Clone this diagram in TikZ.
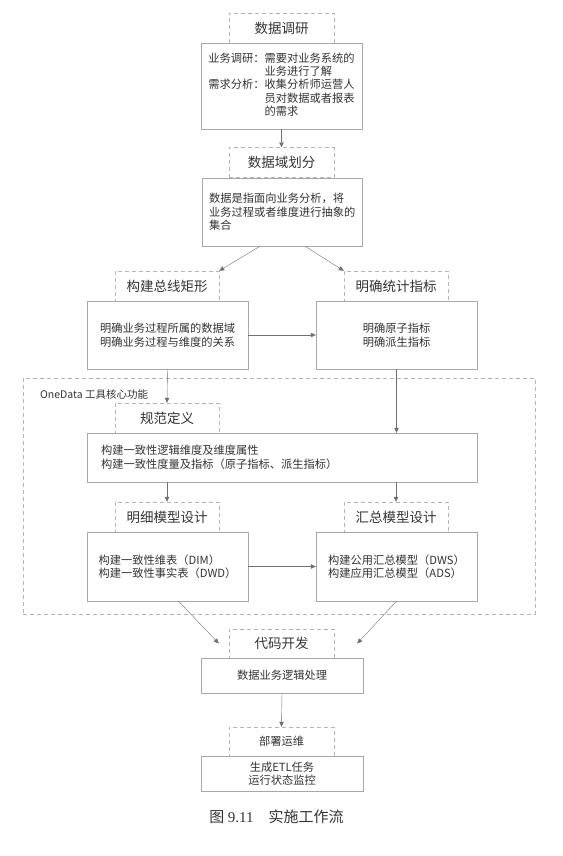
\documentclass[tikz,border=0pt]{standalone}
\usepackage{fontspec}
\setmainfont{Noto Sans CJK SC}
\newfontfamily\capserif{Liberation Serif}
\usetikzlibrary{arrows.meta}
\definecolor{boxgray}{HTML}{A8A8A8}
\definecolor{dashgray}{HTML}{B5B5B5}
\definecolor{arrowgray}{HTML}{707070}
\definecolor{textgray}{HTML}{333333}
\begin{document}
\begin{tikzpicture}[x=1pt,y=-1pt,
        titlebox/.style={draw=dashgray, dash pattern=on 4pt off 3pt, minimum width=105pt, minimum height=30pt, inner sep=0pt, text=textgray, font=\fontsize{13.5}{16}\selectfont},
        stepbox/.style={draw=boxgray, fill=white, inner sep=0pt, text=textgray, font=\fontsize{11.25}{13.5}\selectfont},
        flow/.style={draw=arrowgray, -{Triangle[length=5pt,width=4.5pt]}}]
        \useasboundingbox (0,0) rectangle (562,856);

        \node[titlebox] (research) at (281.5,28) {数据调研};
        \node[stepbox, minimum width=161pt, minimum height=86pt] (researchbox) at (281.5,86) {\fontsize{11.25}{12.75}\selectfont\begin{tabular}{@{}l@{}l@{}}
                业务调研：& 需要对业务系统的\\
                & 业务进行了解\\
                需求分析：& 收集分析师运营人\\
                & 员对数据或者报表\\
                & 的需求
            \end{tabular}};
        \node[titlebox] (domain) at (281.5,162.5) {数据域划分};
        \node[stepbox, minimum width=160pt, minimum height=68pt, text width=146pt, inner xsep=7pt, align=left] (domainbox) at (282,212) {数据是指面向业务分析，将\\业务过程或者维度进行抽象的\\集合};

        \node[titlebox, minimum width=104pt] (busmatrix) at (167,286) {构建总线矩形};
        \node[stepbox, minimum width=161pt, minimum height=68pt, align=center] (busbox) at (167.5,335) {明确业务过程所属的数据域\\明确业务过程与维度的关系};
        \node[titlebox, minimum width=104pt] (metric) at (396,286) {明确统计指标};
        \node[stepbox, minimum width=161pt, minimum height=68pt, align=center] (metricbox) at (396.5,335) {明确原子指标\\明确派生指标};

        \node[draw=dashgray, dash pattern=on 4pt off 3pt, minimum width=512pt, minimum height=236pt] (onedata) at (279,496) {};
        \node[anchor=west, inner sep=0pt, text=textgray, font=\fontsize{10.5}{12}\selectfont] (onedatalabel) at (40,394) {OneData 工具核心功能};

        \node[titlebox, minimum width=104pt] (spec) at (167,418) {规范定义};
        \node[stepbox, minimum width=390pt, minimum height=49pt, text width=362pt, inner xsep=14pt, align=left] (specbox) at (282,457.5) {构建一致性逻辑维度及维度属性\\构建一致性度量及指标（原子指标、派生指标）};
        \node[titlebox, minimum width=104pt] (detail) at (167,517) {明细模型设计};
        \node[stepbox, minimum width=161pt, minimum height=69pt, align=left] (detailbox) at (167.5,566.5) {构建一致性维表（DIM）\\构建一致性事实表（DWD）};
        \node[titlebox, minimum width=104pt] (summary) at (396,517) {汇总模型设计};
        \node[stepbox, minimum width=161pt, minimum height=69pt, align=left] (summarybox) at (396.5,566.5) {构建公用汇总模型（DWS）\\构建应用汇总模型（ADS）};

        \node[titlebox, minimum height=29pt] (coding) at (281.5,643.5) {代码开发};
        \node[stepbox, minimum width=162pt, minimum height=35pt] (codingbox) at (282,675.5) {数据业务逻辑处理};
        \node[titlebox, minimum height=29pt, font=\fontsize{11.25}{13.5}\selectfont] (deploy) at (281.5,741.5) {部署运维};
        \node[stepbox, minimum width=162pt, minimum height=35pt, align=center, font=\fontsize{11.25}{13}\selectfont] (deploybox) at (282,773.5) {生成ETL任务\\运行状态监控};

        \node[text=textgray, font=\fontsize{15}{18}\selectfont] (caption) at (276.5,817) {图 {\capserif 9.11}\quad 实施工作流};

        \draw[flow] (researchbox.south) -- (domain.north);
        \draw[flow] ([xshift=-22pt]domainbox.south) -- (busmatrix.north east);
        \draw[flow] ([xshift=23pt]domainbox.south) -- (metric.north west);
        \draw[flow] (busbox.east) -- (metricbox.west);
        \draw[flow] (busbox.south) -- (spec.north);
        \draw[flow] (metricbox.south) -- (metricbox.south |- specbox.north);
        \draw[flow] (specbox.south -| detail.north) -- (detail.north);
        \draw[flow] (specbox.south -| summary.north) -- (summary.north);
        \draw[flow] (detailbox.east) -- (summarybox.west);
        \draw[flow] ([xshift=11pt]detailbox.south) -- ([xshift=-10pt]coding.west);
        \draw[flow] (summarybox.south) -- ([xshift=23pt]coding.east);
        \draw[flow] (codingbox.south) -- (deploy.north);

    \end{tikzpicture}
\end{document}
